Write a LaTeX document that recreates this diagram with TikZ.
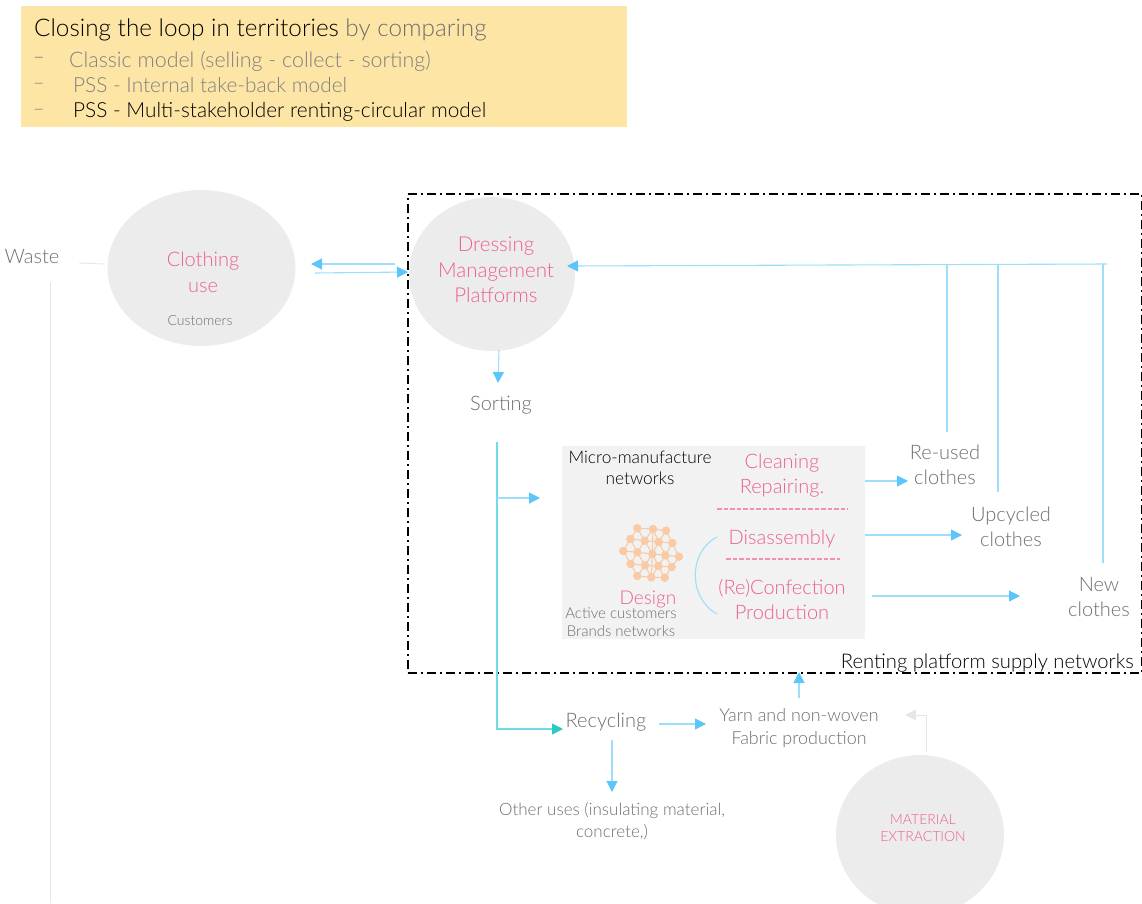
\documentclass[tikz,border=0pt]{standalone}
\usepackage{fontspec}
\setmainfont{Lato Light}
\usetikzlibrary{arrows.meta,shapes.geometric,calc}
\definecolor{pinkt}{HTML}{EC5F93}
\definecolor{grayt}{HTML}{6E6E6E}
\definecolor{line}{HTML}{9CDEFC}
\definecolor{tip}{HTML}{5CC6FA}
\definecolor{teal1}{HTML}{2CC9C4}
\definecolor{teal2}{HTML}{6FDCE6}
\definecolor{blob}{HTML}{ECECEC}
\definecolor{softgray}{HTML}{E6E6E6}
\definecolor{peach}{HTML}{F8CBA6}
\definecolor{hdr}{HTML}{FDE5A6}
\definecolor{microbg}{HTML}{F2F2F2}
\definecolor{dashpink}{HTML}{F58FB4}
\newcommand{\fs}[1]{\fontsize{#1}{1.25\dimexpr#1pt\relax}\selectfont}
\tikzset{
  flow/.style={draw=line,line width=1.1pt,-{Triangle[length=11pt,width=11pt,color=tip,fill=tip]}},
  plain/.style={draw=line,line width=1.1pt},
  txt/.style={inner sep=0pt,align=center,font=\fs{#1}},
  pinktxt/.style={txt=#1,text=pinkt},
  graytxt/.style={txt=#1,text=grayt},
  blacktxt/.style={txt=#1,text=black},
  blobby/.style={ellipse,fill=blob,inner sep=0pt},
  nd/.style={circle,fill=peach,minimum size=8.5pt,inner sep=0pt},
  ed/.style={draw=peach,line width=1.1pt},
  softline/.style={draw=softgray,line width=0.9pt},
  pinkdash/.style={draw=dashpink,line width=1.1pt,dash pattern=on 4.5pt off 2pt},
}
\begin{document}
\begin{tikzpicture}[x=1pt,y=-1pt]
\useasboundingbox (0,0) rectangle (1142,903);
% header
\node[fill=hdr,minimum width=606pt,minimum height=121pt,inner sep=0pt,anchor=north west] (header) at (21,6) {};
\node[blacktxt=24.3,anchor=west] (title) at (34,30) {Closing the loop in territories \textcolor{grayt}{by comparing}};
\node[graytxt=20,anchor=west] (d1) at (33,60) {–};
\node[txt=21.4,text=gray,anchor=west] (l1) at (69,61) {Classic model (selling - collect - sorting)};
\node[graytxt=20,anchor=west,text=gray] (d2) at (33,86) {–};
\node[txt=20.8,text=gray,anchor=west] (l2) at (73,85) {PSS - Internal take-back model};
\node[graytxt=20,anchor=west,text=gray] (d3) at (33,112) {–};
\node[blacktxt=20.8,anchor=west] (l3) at (73,112) {PSS - Multi-stakeholder renting-circular model};
% blobs
\node[blobby,minimum width=188pt,minimum height=156pt] (use) at (201.5,268) {};
\node[blobby,minimum width=166pt,minimum height=154pt] (dress) at (492,274) {};
\begin{scope}
\clip (0,0) rectangle (1142,903);
\node[blobby,minimum width=168pt,minimum height=160pt] (mat) at (920,835) {};
\end{scope}
% frame
\node[draw=black,line width=1.6pt,dash pattern=on 9pt off 4pt on 2pt off 4pt,minimum width=734pt,minimum height=479pt,inner sep=0pt,anchor=north west] (frame) at (407,193) {};
% micro box
\node[fill=microbg,minimum width=303pt,minimum height=193pt,inner sep=0pt,anchor=north west] (micro) at (562,446) {};
% texts
\node[graytxt=20] (waste) at (32,256) {Waste};
\node[pinktxt=20] (clothing) at (203,272) {Clothing\\[1pt]use};
\node[graytxt=14] (cust) at (200,321) {Customers};
\node[pinktxt=20.5] (dresst) at (496,270) {Dressing\\Management\\Platforms};
\node[graytxt=20] (sorting) at (501,405) {Sorting};
\node[blacktxt=17.3] (mm) at (640,468) {Micro-manufacture\\networks};
\node[pinktxt=20] (clean) at (782,476) {Cleaning\\Repairing.};
\node[pinktxt=20] (dis) at (782,539) {Disassembly};
\node[pinktxt=20] (conf) at (782,599) {(Re)Confection\\Production};
\node[pinktxt=19] (design) at (648,599) {Design};
\node[graytxt=15] (active) at (621,613) {Active customers};
\node[graytxt=15] (brands) at (621,631) {Brands networks};
\node[graytxt=20] (reused) at (945,465) {Re-used\\clothes};
\node[graytxt=20] (upc) at (1011,527) {Upcycled\\clothes};
\node[graytxt=20] (newc) at (1099,597) {New\\clothes};
\node[blacktxt=20.2,anchor=east] (rent) at (1134,663) {Renting platform supply networks};
\node[graytxt=20] (recy) at (606,722) {Recycling};
\node[graytxt=17.9] (yarn) at (799,728) {Yarn and non-woven\\Fabric production};
\node[graytxt=17] (other) at (612,821) {Other uses (insulating material,\\concrete,)};
\node[pinktxt=14] (matt) at (923,828) {MATERIAL\\EXTRACTION};
% network
\begin{scope}[shift={(560,440)},x=0.3333pt,y=-0.3333pt]
\foreach \n/\a/\b in {a/232/265,b/279/267,c/318/272,d/211/297,e/254/302,f/296/306,g/337/309,h/190/333,i/232/337,j/277/342,k/316/346,l/357/350,m/212/372,n/255/376,o/295/378,p/335/381,q/232/408,r/274/412,s/314/413}
  \coordinate (\n) at (\a,\b);
\foreach \u/\v in {a/b,b/c,a/d,a/e,b/e,b/f,c/f,c/g,d/e,e/f,f/g,d/h,d/i,e/i,e/j,f/j,f/k,g/k,g/l,h/i,i/j,j/k,k/l,h/m,i/m,i/n,j/n,j/o,k/o,k/p,l/p,m/n,n/o,o/p,m/q,n/q,n/r,o/r,o/s,p/s,q/r,r/s,b/j,j/r}
  \draw[ed] (\u) -- (\v);
\foreach \n in {a,b,c,d,e,f,g,h,i,j,k,l,m,n,o,p,q,r,s}
  \node[nd] (N\n) at (\n) {};
\end{scope}
% free ends
\coordinate (wasteE) at (79,263); \coordinate (useE) at (105,264);
\coordinate (wv1) at (50,282); \coordinate (wv2) at (50,903);
\coordinate (a1s) at (395,264); \coordinate (a1e) at (311,264);
\coordinate (a2s) at (315,273); \coordinate (a2e) at (408,272);
\coordinate (ds) at (499,350); \coordinate (de) at (498,383);
\coordinate (st) at (497,442); \coordinate (stb) at (497,729); \coordinate (re) at (563,729);
\coordinate (br) at (497,498); \coordinate (bre) at (540,498);
\coordinate (top) at (1107,264); \coordinate (tope) at (567,266);
\coordinate (r1) at (947,432); \coordinate (r1t) at (947,265);
\coordinate (r2) at (998,492); \coordinate (r2t) at (998,264);
\coordinate (r3) at (1103,563); \coordinate (r3t) at (1103,264);
\coordinate (m1) at (865,481); \coordinate (m1e) at (908,481);
\coordinate (m2) at (865,535); \coordinate (m2e) at (962,535);
\coordinate (m3) at (872,596); \coordinate (m3e) at (1020,596);
\coordinate (rc) at (659,724); \coordinate (rce) at (706,724);
\coordinate (rd) at (612,740); \coordinate (rde) at (612,792);
\coordinate (yu) at (799,698); \coordinate (yue) at (799,672);
\coordinate (ms) at (926,752); \coordinate (mc) at (926,715); \coordinate (me) at (905,715);
\coordinate (c1) at (717,537); \coordinate (c2) at (717,614);
% connectors
\draw[softline] (wasteE) -- (useE);
\draw[softline] (wv1) -- (wv2);
\draw[flow] (a1s) -- (a1e);
\draw[flow] (a2s) -- (a2e);
\draw[flow] (ds) -- (de);
\draw[line width=1.1pt,draw=teal2,-{Triangle[length=11pt,width=11pt,color=teal1,fill=teal1]}] (st) -- (stb) -- (re);
\draw[flow] (br) -- (bre);
\draw[flow] (top) -- (tope);
\draw[plain] (r1) -- (r1t);
\draw[plain] (r2) -- (r2t);
\draw[plain] (r3) -- (r3t);
\draw[flow] (m1) -- (m1e);
\draw[flow] (m2) -- (m2e);
\draw[flow] (m3) -- (m3e);
\draw[flow] (rc) -- (rce);
\draw[flow] (rd) -- (rde);
\draw[flow] (yu) -- (yue);
\draw[softline,-{Triangle[length=11pt,width=11pt,color=softgray,fill=softgray]}] (ms) -- (mc) -- (me);
\draw[plain] (c1) .. controls (688,552) and (688,598) .. (c2);
% pink dashes
\coordinate (p1a) at (717,509); \coordinate (p1b) at (848,509);
\coordinate (p2a) at (726,559); \coordinate (p2b) at (840,559);
\draw[pinkdash] (p1a) -- (p1b);
\draw[pinkdash] (p2a) -- (p2b);
\end{tikzpicture}
\end{document}
